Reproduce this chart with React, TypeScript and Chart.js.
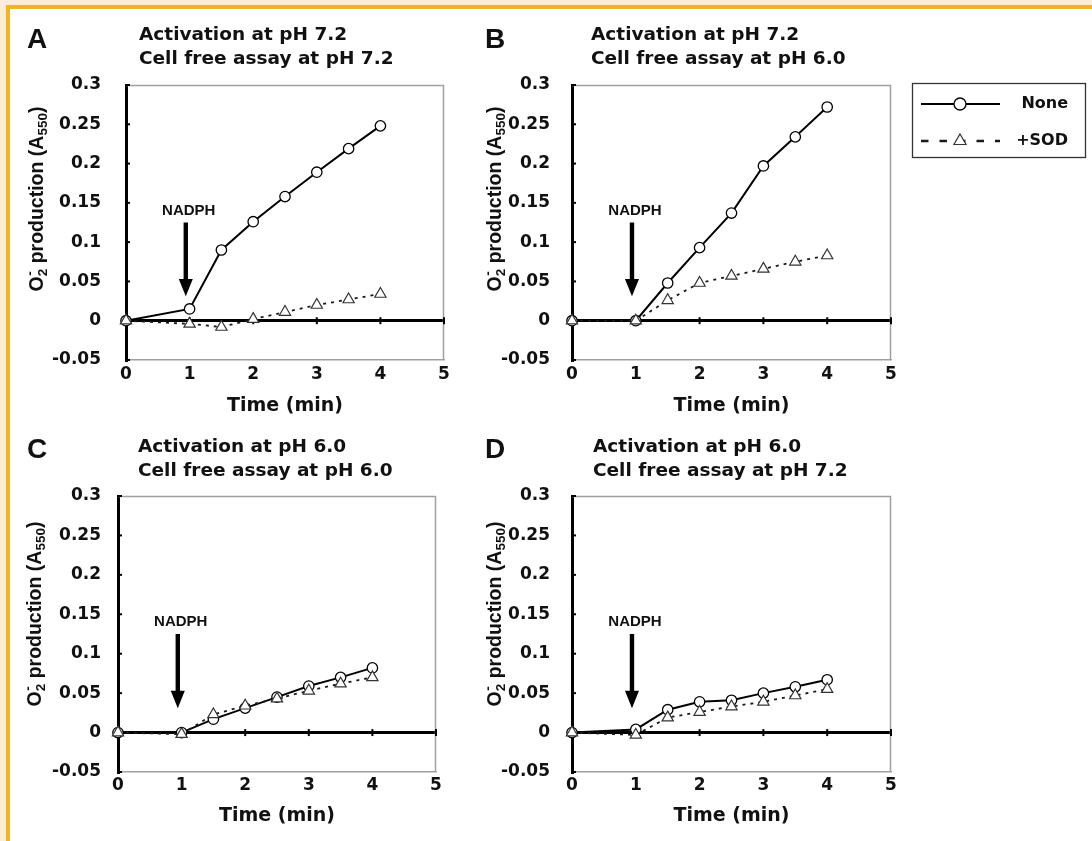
import React, { useEffect, useRef } from 'react';
import { Chart, registerables } from 'chart.js';

Chart.register(...registerables);

// ---------------- data ----------------
const timeMin = [0, 1, 1.5, 2, 2.5, 3, 3.5, 4];

const noneA = [0, 0.015, 0.09, 0.126, 0.158, 0.189, 0.219, 0.248];
const sodA = [0, -0.004, -0.008, 0.002, 0.011, 0.02, 0.027, 0.034];
const noneB = [0, 0, 0.048, 0.093, 0.137, 0.197, 0.234, 0.272];
const sodB = [0, 0, 0.026, 0.048, 0.057, 0.066, 0.075, 0.083];
const noneC = [0, 0, 0.017, 0.031, 0.045, 0.059, 0.07, 0.082];
const sodC = [0, -0.002, 0.023, 0.034, 0.043, 0.053, 0.062, 0.07];
const noneD = [0, 0.004, 0.029, 0.039, 0.041, 0.05, 0.058, 0.067];
const sodD = [0, -0.003, 0.019, 0.026, 0.033, 0.039, 0.047, 0.055];

const seriesLabels = ['None', '+SOD'];
const panelLetters = ['A', 'B', 'C', 'D'];
const activationTitles = ['Activation at pH 7.2', 'Activation at pH 7.2', 'Activation at pH 6.0', 'Activation at pH 6.0'];
const assayTitles = ['Cell free assay at pH 7.2', 'Cell free assay at pH 6.0', 'Cell free assay at pH 6.0', 'Cell free assay at pH 7.2'];

const yTickValues = [-0.05, 0, 0.05, 0.1, 0.15, 0.2, 0.25, 0.3];
const yTickLabels = ['-0.05', '0', '0.05', '0.1', '0.15', '0.2', '0.25', '0.3'];
const xTickValues = [0, 1, 2, 3, 4, 5];
const xTickLabels = ['0', '1', '2', '3', '4', '5'];
const xAxisTitle = 'Time (min)';
const yAxisTitleParts = ['O', '2', '-', ' production (A', '550', ')'];

const arrowLabel = 'NADPH';
const arrowTime = 0.94;
const arrowLevels = { label: 0.14, top: 0.125, head: 0.053, tip: 0.031 };

const panelSeries = [
  [noneA, sodA],
  [noneB, sodB],
  [noneC, sodC],
  [noneD, sodD],
];

// ---------------- layout & styles ----------------
const W = 1092;
const H = 841;
const X_AXIS_H = 60;
const FONT_D = '"DejaVu Sans", sans-serif';
const FONT_L = '"Liberation Sans", Arial, sans-serif';
const FRAME_GRAY = '#a0a0a0';
const INK = '#111';

const panelLayout = [
  { plotLeft: 126, plotRight: 444, plotTop: 85, plotBottom: 360, yTickPad: 25, xTickPad: 4, xTitlePad: 3, letterX: 27, letterY: 48, titleX: 139, title1Y: 40, title2Y: 64, yTitleX: 36, yTitleY: 199 },
  { plotLeft: 572, plotRight: 891, plotTop: 85, plotBottom: 360, yTickPad: 22, xTickPad: 4, xTitlePad: 3, letterX: 485, letterY: 48, titleX: 591, title1Y: 40, title2Y: 64, yTitleX: 494, yTitleY: 199 },
  { plotLeft: 118, plotRight: 436, plotTop: 496, plotBottom: 772, yTickPad: 17, xTickPad: 3, xTitlePad: 5, letterX: 27, letterY: 458, titleX: 138, title1Y: 452, title2Y: 476, yTitleX: 34, yTitleY: 614 },
  { plotLeft: 572, plotRight: 891, plotTop: 496, plotBottom: 772, yTickPad: 22, xTickPad: 3, xTitlePad: 5, letterX: 485, letterY: 458, titleX: 593, title1Y: 452, title2Y: 476, yTitleX: 494, yTitleY: 614 },
];

const legendLayout = { left: 912.5, top: 83.5, width: 173, height: 74, rows: [104, 141], lineX0: 921, lineX1: 1000, markerX: 960, textRight: 1068 };

const seriesStyles: any[] = [
  { borderColor: '#000', borderWidth: 2, borderDash: [], pointStyle: 'circle', pointRadius: 5.2, pointBorderColor: '#000', pointBorderWidth: 1.3 },
  { borderColor: '#1a1a1a', borderWidth: 1.8, borderDash: [3, 5], pointStyle: 'triangle', pointRadius: 6.5, pointBorderColor: '#333', pointBorderWidth: 1.2 },
];

function drawYTitle(ctx: CanvasRenderingContext2D, cx: number, cy: number) {
  const main = 'bold 19.5px ' + FONT_L;
  const sub = 'bold 13.5px ' + FONT_L;
  const [o, two, minus, mid, sub550, close] = yAxisTitleParts;
  ctx.save();
  ctx.font = main;
  const wO = ctx.measureText(o).width;
  const wMid = ctx.measureText(mid).width;
  const wClose = ctx.measureText(close).width;
  ctx.font = sub;
  const wStack = Math.max(ctx.measureText(two).width, ctx.measureText(minus).width);
  const w550 = ctx.measureText(sub550).width;
  const total = wO + wStack + wMid + w550 + wClose;
  ctx.translate(cx, cy);
  ctx.rotate(-Math.PI / 2);
  ctx.fillStyle = INK;
  ctx.textAlign = 'left';
  ctx.textBaseline = 'alphabetic';
  const base = 6.8;
  let px = -total / 2;
  ctx.font = main;
  ctx.fillText(o, px, base);
  px += wO;
  ctx.font = sub;
  ctx.fillText(two, px, base + 4);
  ctx.fillText(minus, px + 0.5, base - 9);
  px += wStack;
  ctx.font = main;
  ctx.fillText(mid, px, base);
  px += wMid;
  ctx.font = sub;
  ctx.fillText(sub550, px, base + 4);
  px += w550;
  ctx.font = main;
  ctx.fillText(close, px, base);
  ctx.restore();
}

function drawMarker(ctx: CanvasRenderingContext2D, style: string, x: number, y: number, r: number) {
  ctx.beginPath();
  if (style === 'circle') {
    ctx.arc(x, y, r, 0, Math.PI * 2);
  } else {
    const h = r * 1.5;
    const half = r * 0.866;
    ctx.moveTo(x, y - r);
    ctx.lineTo(x + half, y - r + h);
    ctx.lineTo(x - half, y - r + h);
    ctx.closePath();
  }
  ctx.fillStyle = '#fff';
  ctx.fill();
  ctx.stroke();
}

function decorPlugin(idx: number) {
  const g = panelLayout[idx];
  return {
    id: 'panelDecor',
    beforeDatasetsDraw(chart: any) {
      const { ctx, chartArea: a } = chart;
      const xs = chart.scales.x;
      const ys = chart.scales.y;
      ctx.save();
      ctx.strokeStyle = FRAME_GRAY;
      ctx.lineWidth = 1.5;
      ctx.beginPath();
      ctx.moveTo(a.left, a.top + 0.5);
      ctx.lineTo(a.right - 0.5, a.top + 0.5);
      ctx.lineTo(a.right - 0.5, a.bottom);
      ctx.stroke();
      ctx.strokeStyle = '#000';
      ctx.lineWidth = 2;
      for (const v of yTickValues) {
        const py = ys.getPixelForValue(v);
        ctx.beginPath();
        ctx.moveTo(a.left, py);
        ctx.lineTo(a.left + 4, py);
        ctx.stroke();
      }
      const zy = ys.getPixelForValue(0);
      for (const v of xTickValues) {
        if (v === 0) continue;
        const px = xs.getPixelForValue(v);
        ctx.beginPath();
        ctx.moveTo(px, zy - 3.5);
        ctx.lineTo(px, zy + 3.5);
        ctx.stroke();
      }
      ctx.restore();
    },
    afterDraw(chart: any) {
      const { ctx } = chart;
      const xs = chart.scales.x;
      const ys = chart.scales.y;
      ctx.save();
      ctx.fillStyle = INK;
      // panel letter
      ctx.textAlign = 'left';
      ctx.textBaseline = 'alphabetic';
      ctx.font = 'bold 28px ' + FONT_L;
      ctx.fillText(panelLetters[idx], g.letterX, g.letterY);
      // titles
      ctx.font = 'bold 18.5px ' + FONT_D;
      ctx.fillText(activationTitles[idx], g.titleX, g.title1Y);
      ctx.fillText(assayTitles[idx], g.titleX, g.title2Y);
      // y axis title
      drawYTitle(ctx, g.yTitleX, g.yTitleY);
      // NADPH arrow
      const ax = xs.getPixelForValue(arrowTime);
      const yTop = ys.getPixelForValue(arrowLevels.top);
      const yHead = ys.getPixelForValue(arrowLevels.head);
      const yTip = ys.getPixelForValue(arrowLevels.tip);
      ctx.fillStyle = '#000';
      ctx.fillRect(ax - 2.2, yTop, 4.4, yHead - yTop + 1);
      ctx.beginPath();
      ctx.moveTo(ax - 7, yHead);
      ctx.lineTo(ax + 7, yHead);
      ctx.lineTo(ax, yTip);
      ctx.closePath();
      ctx.fill();
      ctx.fillStyle = INK;
      ctx.font = 'bold 15px ' + FONT_L;
      ctx.textAlign = 'center';
      ctx.textBaseline = 'middle';
      ctx.fillText(arrowLabel, ax + 3, ys.getPixelForValue(arrowLevels.label));
      // legend (panel B only)
      if (idx === 1) {
        const L = legendLayout;
        ctx.strokeStyle = '#333';
        ctx.lineWidth = 1.3;
        ctx.strokeRect(L.left, L.top, L.width, L.height);
        chart.data.datasets.forEach((ds: any, s: number) => {
          const ry = L.rows[s];
          ctx.strokeStyle = ds.borderColor;
          ctx.lineWidth = s === 0 ? ds.borderWidth : 2.6;
          ctx.setLineDash(s === 0 ? [] : [7.5, 11]);
          ctx.beginPath();
          ctx.moveTo(L.lineX0, ry);
          ctx.lineTo(L.lineX1, ry);
          ctx.stroke();
          ctx.setLineDash([]);
          ctx.strokeStyle = ds.pointBorderColor;
          ctx.lineWidth = ds.pointBorderWidth;
          drawMarker(ctx, ds.pointStyle, L.markerX, ry, s === 0 ? 6 : 7);
          ctx.fillStyle = INK;
          ctx.font = 'bold 16px ' + FONT_D;
          ctx.textAlign = 'right';
          ctx.textBaseline = 'middle';
          ctx.fillText(ds.label, L.textRight, ry);
        });
      }
      ctx.restore();
    },
  };
}

function makeConfig(idx: number): any {
  const g = panelLayout[idx];
  const datasets = panelSeries[idx].map((vals, s) => ({
    label: seriesLabels[s],
    data: timeMin.map((t, i) => ({ x: t, y: vals[i] })),
    ...seriesStyles[s],
    pointBackgroundColor: '#fff',
    pointHoverRadius: seriesStyles[s].pointRadius,
    fill: false,
    tension: 0,
    clip: false,
    order: s === 0 ? 1 : 0,
  }));
  const tickFont = { family: FONT_D, weight: 'bold', size: 17 };
  return {
    type: 'line',
    data: { datasets },
    options: {
      responsive: false,
      animation: false,
      devicePixelRatio: 1,
      events: [],
      layout: {
        padding: { left: 0, top: g.plotTop, right: W - g.plotRight, bottom: H - g.plotBottom - X_AXIS_H },
      },
      plugins: { legend: { display: false }, tooltip: { enabled: false }, title: { display: false } },
      scales: {
        x: {
          type: 'linear',
          position: 'bottom',
          min: 0,
          max: 5,
          afterBuildTicks: (s: any) => { s.ticks = xTickValues.map((v) => ({ value: v })); },
          afterFit: (s: any) => { s.height = X_AXIS_H; },
          ticks: {
            autoSkip: false,
            maxRotation: 0,
            padding: g.xTickPad,
            color: INK,
            font: tickFont,
            callback: (_v: any, i: number) => xTickLabels[i],
          },
          grid: { display: false, drawTicks: false },
          border: { display: true, color: FRAME_GRAY, width: 1.5 },
          title: {
            display: true,
            text: xAxisTitle,
            color: INK,
            font: { family: FONT_D, weight: 'bold', size: 19 },
            padding: { top: 0, bottom: g.xTitlePad },
          },
        },
        y: {
          type: 'linear',
          position: 'left',
          min: -0.05,
          max: 0.3,
          afterBuildTicks: (s: any) => { s.ticks = yTickValues.map((v) => ({ value: v })); },
          afterFit: (s: any) => { s.width = g.plotLeft; },
          ticks: {
            padding: g.yTickPad,
            color: INK,
            font: tickFont,
            callback: (_v: any, i: number) => yTickLabels[i],
          },
          grid: {
            display: true,
            drawTicks: false,
            color: (c: any) => (c.tick && c.tick.value === 0 ? '#000' : 'rgba(0,0,0,0)'),
            lineWidth: 3,
          },
          border: { display: true, color: '#000', width: 3 },
          title: { display: false },
        },
      },
    },
    plugins: [decorPlugin(idx)],
  };
}

function Panel({ idx }: { idx: number }) {
  const ref = useRef<HTMLCanvasElement>(null);
  useEffect(() => {
    if (!ref.current) return;
    const chart = new Chart(ref.current, makeConfig(idx));
    return () => chart.destroy();
  }, [idx]);
  return (
    <canvas
      ref={ref}
      width={W}
      height={H}
      style={{ position: 'absolute', left: 0, top: 0, width: W, height: H }}
    />
  );
}

export default function App() {
  return (
    <div style={{ position: 'absolute', left: 0, top: 0, width: W, height: H, background: '#FBEDD4', overflow: 'hidden' }}>
      <div
        style={{
          position: 'absolute',
          left: 6,
          top: 5,
          right: 0,
          bottom: 0,
          borderTop: '4px solid #F0B323',
          borderLeft: '4px solid #F0B323',
          background: '#fff',
        }}
      />
      {[0, 1, 2, 3].map((i) => (
        <Panel key={i} idx={i} />
      ))}
    </div>
  );
}
